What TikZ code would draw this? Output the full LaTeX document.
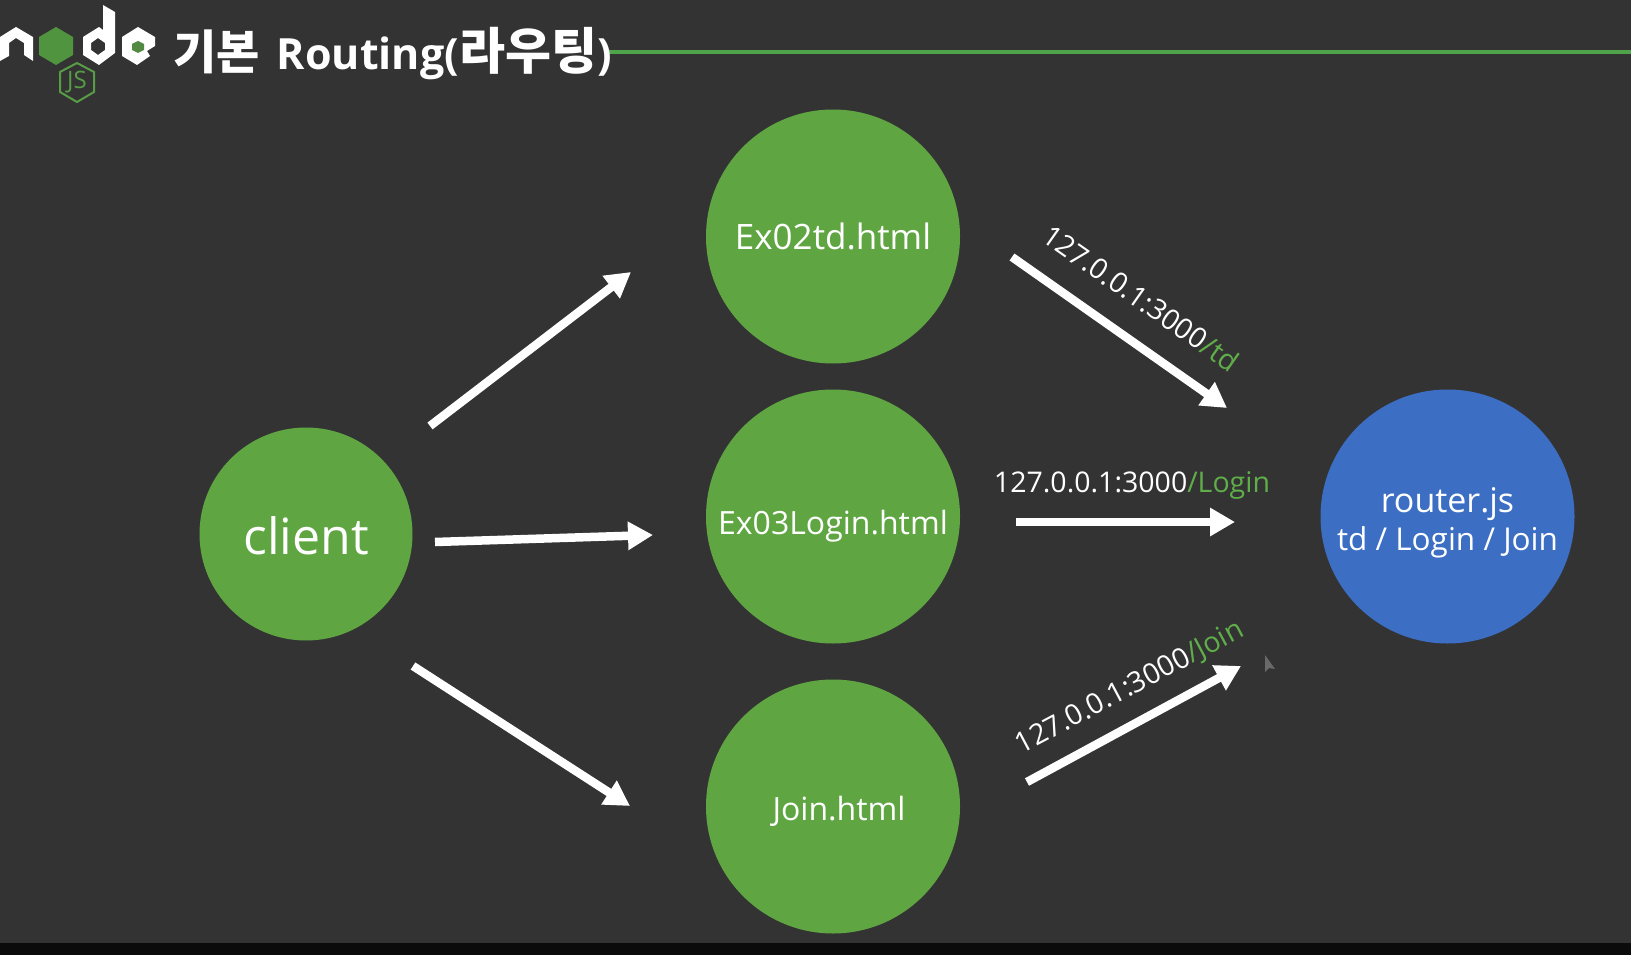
\documentclass[tikz,border=0pt]{standalone}
\usepackage{fontspec}
\setmainfont{Open Sans}
\newfontfamily\krfont{Noto Sans CJK KR}
\definecolor{bgc}{HTML}{333333}
\definecolor{barc}{HTML}{0B0B0B}
\definecolor{gc}{HTML}{5FA642}
\definecolor{bc}{HTML}{3C6EC4}
\definecolor{lg}{HTML}{5FAE4A}
\definecolor{hlg}{HTML}{4FA34A}
\usetikzlibrary{arrows.meta}
\tikzset{
  x=1pt,y=-1pt,
  bigc/.style={circle,fill=gc,draw=none,minimum size=254pt,inner sep=0pt,text=white,font=\fontsize{32}{38}\selectfont},
  arrowline/.style={draw=white,line width=8.5pt,-{Triangle[length=25pt,width=27pt]}},
  lbl/.style={text=white,font=\fontsize{28.5}{34}\selectfont,inner sep=0pt},
  logow/.style={fill=white,draw=none},
}
\begin{document}
\begin{tikzpicture}
\useasboundingbox (0,0) rectangle (1631,955);
\fill[bgc] (0,0) rectangle (1631,943);
\fill[barc] (0,943) rectangle (1631,955);
% header
\draw[hlg,line width=4.5pt] (606,52) -- (1631,52);
\node[anchor=west,inner sep=0pt,text=white,font=\fontsize{43}{48}\selectfont\bfseries] (title) at (173,54) {{\krfont\fontsize{47}{48}\selectfont 기본}\hspace{6pt} Routing({\krfont\fontsize{50}{48}\selectfont 라우팅})};
% logo
\fill[logow] (0,37) -- (16,27) -- (33,37) -- (33,61) -- (24,55) -- (24,43) -- (16,38) -- (9,43) -- (9,56) -- (0,61) -- cycle;
\fill[lg!85!black] (56,27) -- (73,37) -- (73,55) -- (56,65) -- (39,55) -- (39,37) -- cycle;
\fill[logow,even odd rule] (103,5) -- (115,12) -- (115,53) -- (99,65) -- (83,55) -- (83,37) -- (99,27) -- (103,30) -- cycle
  (98,38) -- (105,43) -- (105,50) -- (98,55) -- (91,50) -- (91,43) -- cycle;
\fill[logow] (138,27) -- (155,37) -- (155,46) -- (147,51) -- (150,56) -- (137,65) -- (122,56) -- (122,37) -- cycle;
\fill[lg!70!bgc] (138,41) -- (144,44) -- (144,50) -- (138,53) -- (132,50) -- (132,44) -- cycle;
\draw[lg!85!bgc,line width=2pt] (77,63) -- (94,72) -- (94,92) -- (77,102) -- (60,92) -- (60,72) -- cycle;
\node[text=lg!85!bgc,inner sep=0pt,font=\fontsize{24}{26}\selectfont] (js) at (77,82) {JS};
% circles
\node[bigc,minimum size=213pt,font=\fontsize{50}{58}\selectfont] (client) at (306,534) {\rule{0pt}{42pt}client};
\node[bigc,font=\fontsize{35}{40}\selectfont] (ex02) at (833,236.5) {Ex02td.html};
\node[bigc] (ex03) at (833,516.5) {\rule{0pt}{44pt}Ex03Login.html};
\node[bigc] (join) at (833,806.5) {\hspace{12pt}\rule{0pt}{34pt}Join.html};
\node[bigc,fill=bc,align=center,font=\fontsize{34}{40}\selectfont] (router) at (1447.5,516.5) {\rule{0pt}{38pt}router.js\\[-2pt]{\fontsize{31.5}{34}\selectfont td / Login / Join}};
% arrows
\coordinate (a1s) at (430,426); \coordinate (a1e) at (631,272);
\coordinate (a2s) at (435,542); \coordinate (a2e) at (653,535);
\coordinate (a3s) at (413,666); \coordinate (a3e) at (630,806);
\coordinate (b1s) at (1012,257); \coordinate (b1e) at (1227,408);
\coordinate (b2s) at (1016,522); \coordinate (b2e) at (1235,522);
\coordinate (b3s) at (1027,782); \coordinate (b3e) at (1241,666);
\draw[arrowline] (a1s) -- (a1e);
\draw[arrowline] (a2s) -- (a2e);
\draw[arrowline] (a3s) -- (a3e);
\draw[arrowline] (b1s) -- (b1e);
\draw[arrowline] (b2s) -- (b2e);
\draw[arrowline] (b3s) -- (b3e);
% labels
\node[lbl,rotate=-35] (l1) at (1141,298) {127.0.0.1:3000\textcolor{lg}{/td}};
\node[lbl] (l2) at (1132,485) {127.0.0.1:3000\textcolor{lg}{/Login}};
\node[lbl,rotate=28] (l3) at (1130,688) {127.0.0.1:3000\textcolor{lg}{/Join}};
% mouse pointer
\fill[gray!70!bgc] (1265,655) -- (1265,672) -- (1269,668) -- (1275,669) -- cycle;
\end{tikzpicture}
\end{document}
